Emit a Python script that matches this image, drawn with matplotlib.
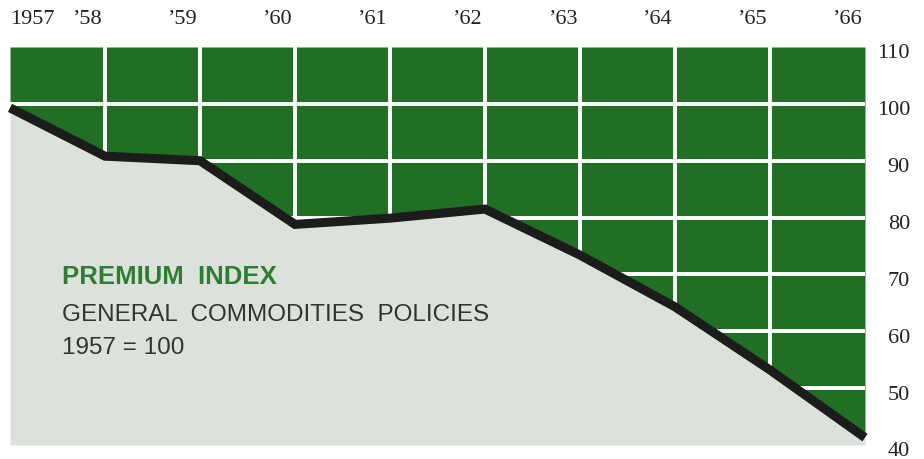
import matplotlib.pyplot as plt
import matplotlib.transforms as mtransforms

years = [1957, 1958, 1959, 1960, 1961, 1962, 1963, 1964, 1965, 1966]
index = [100, 91.5, 90.7, 79.5, 80.6, 82.2, 74.1, 65.0, 53.9, 42.0]
year_labels = ['1957', '’58', '’59', '’60', '’61', '’62', '’63', '’64', '’65', '’66']
y_ticks = [40, 50, 60, 70, 80, 90, 100, 110]

green = '#216f24'
shade = '#dbe2db'

fig = plt.figure(figsize=(9.24, 4.6), dpi=100)
ax = fig.add_axes([10 / 924, 14 / 460, 855 / 924, 398 / 460])
ax.set_xlim(1957, 1966)
ax.set_ylim(40, 110)
ax.axis('off')

# green area above the index, white grid on it
ax.fill_between(years, index, 110, color=green, lw=0, zorder=1)
for y in y_ticks[1:-1]:
    ax.axhline(y, color='white', lw=2.8, zorder=2)
for x in years[1:-1]:
    ax.axvline(x, color='white', lw=2.8, zorder=2)

# light area under the index hides the grid
ax.fill_between(years, 40, index, color=shade, lw=0, zorder=3)

# thick dark line, shifted down so its top edge sits on the values
down = mtransforms.offset_copy(ax.transData, fig=fig, x=0, y=-4, units='dots')
ax.plot(years, index, color='#1c1c1c', lw=6.5, transform=down, zorder=4,
        solid_joinstyle='miter', solid_capstyle='butt', clip_on=False)

# year labels along the top
top = mtransforms.blended_transform_factory(ax.transData, fig.transFigure)
for i, (yr, lab) in enumerate(zip(years, year_labels)):
    if i == 0:
        ax.text(yr, 1 - 19 / 460, lab, transform=top, ha='left', va='center',
                family='Liberation Serif', fontsize=16, color='#222222')
    else:
        ax.text(yr - 0.03, 1 - 19 / 460, lab, transform=top, ha='right', va='center',
                family='Liberation Serif', fontsize=16, color='#222222')

# value labels on the right
right = mtransforms.blended_transform_factory(fig.transFigure, ax.transData)
right = right + mtransforms.ScaledTranslation(0, -6 / 100, fig.dpi_scale_trans)
for v in y_ticks:
    ax.text(910 / 924, v, str(v), transform=right, ha='right', va='center',
            family='Liberation Serif', fontsize=16, color='#222222')

# title block
fig.text(62 / 924, 1 - 277 / 460, 'PREMIUM  INDEX', color='#2f7d33',
         fontweight='bold', family='Liberation Sans', fontsize=18.5, va='center')
fig.text(62 / 924, 1 - 315 / 460, 'GENERAL  COMMODITIES  POLICIES', color='#333333',
         family='Liberation Sans', fontsize=17.5, va='center')
fig.text(62 / 924, 1 - 348 / 460, '1957 = 100', color='#333333',
         family='Liberation Sans', fontsize=17.5, va='center')

fig.savefig('out.png', dpi=100)
